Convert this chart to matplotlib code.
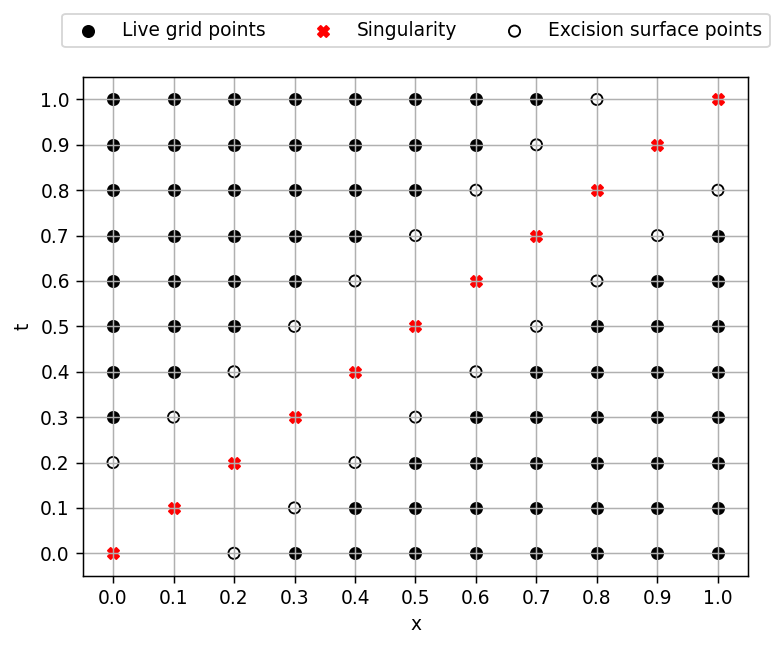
import numpy as np
import matplotlib
matplotlib.use("Agg")
import matplotlib.pyplot as plt

# grid values, rows from t=0.0 (bottom) to t=1.0 (top)
x_vals = [0.0, 0.1, 0.2, 0.3, 0.4, 0.5, 0.6, 0.7, 0.8, 0.9, 1.0]
t_vals = [0.0, 0.1, 0.2, 0.3, 0.4, 0.5, 0.6, 0.7, 0.8, 0.9, 1.0]

# L = live point, S = singularity, E = excision surface point, . = nothing
grid_rows = [
    "S.ELLLLLLLL",  # t=0.0
    ".S.ELLLLLLL",  # t=0.1
    "E.S.ELLLLLL",  # t=0.2
    "LE.S.ELLLLL",  # t=0.3
    "LLE.S.ELLLL",  # t=0.4
    "LLLE.S.ELLL",  # t=0.5
    "LLLLE.S.ELL",  # t=0.6
    "LLLLLE.S.EL",  # t=0.7
    "LLLLLLE.S.E",  # t=0.8
    "LLLLLLLE.S.",  # t=0.9
    "LLLLLLLLE.S",  # t=1.0
]

live_x, live_t = [], []
sing_x, sing_t = [], []
exc_x, exc_t = [], []
for i, row in enumerate(grid_rows):
    for j, c in enumerate(row):
        if c == "L":
            live_x.append(x_vals[j]); live_t.append(t_vals[i])
        elif c == "S":
            sing_x.append(x_vals[j]); sing_t.append(t_vals[i])
        elif c == "E":
            exc_x.append(x_vals[j]); exc_t.append(t_vals[i])

# the reference looks like a ~1.34x upscale of a 100 dpi figure
dpi = 134
fig = plt.figure(figsize=(781 / dpi, 645 / dpi), dpi=dpi)
ax = fig.add_axes([0.106, 0.107, 0.852, 0.774])

ax.scatter(live_x, live_t, c="black", marker="o", label="Live grid points")
ax.scatter(sing_x, sing_t, c="red", marker="X", label="Singularity")
ax.scatter(exc_x, exc_t, facecolors="none", edgecolors="black", marker="o",
           label="Excision surface points")

ax.set_xticks(x_vals)
ax.set_yticks(t_vals)
ax.set_xlabel("x")
ax.set_ylabel("t")
ax.grid(True)
ax.legend(loc="lower center", bbox_to_anchor=(0.5005, 1.04), ncol=3,
          columnspacing=2.1)

fig.savefig("out.png", dpi=dpi)
